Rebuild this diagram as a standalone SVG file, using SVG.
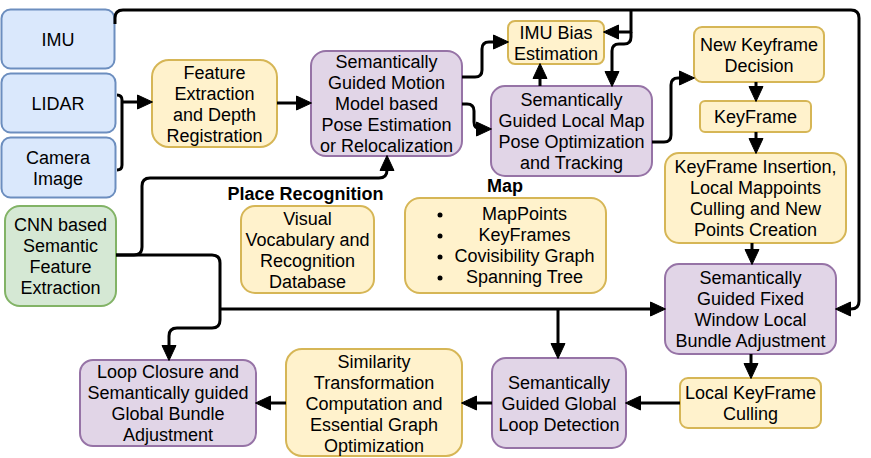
<svg xmlns="http://www.w3.org/2000/svg" width="871" height="458" viewBox="0 0 871 458">
<style>
text{font-family:"Liberation Sans",Arial,Helvetica,sans-serif;font-size:18px;fill:#000;text-anchor:middle}
.lbl{font-weight:bold}
.blue{fill:#dae8fc;stroke:#6c8ebf;stroke-width:2}
.yel{fill:#fff2cc;stroke:#d6b656;stroke-width:2}
.pur{fill:#e1d5e7;stroke:#9673a6;stroke-width:2}
.grn{fill:#d5e8d4;stroke:#82b366;stroke-width:2}
.c path{fill:none;stroke:#000;stroke-width:3;stroke-linejoin:round}
.c .a{marker-end:url(#ah)}
</style>
<defs>
<marker id="ah" markerUnits="userSpaceOnUse" markerWidth="17" markerHeight="17" refX="11" refY="7.5" orient="auto" viewBox="0 0 17 15">
<path d="M0.5,0.5 L15.5,7.5 L0.5,14.5 Z" fill="#000" stroke="#000" stroke-width="1"/>
</marker>
</defs>
<rect width="871" height="458" fill="#fff"/>

<g id="imu"><rect class="blue" x="1.5" y="9.5" width="113" height="59" rx="9"/><text x="58" y="45.5">IMU</text></g>
<g id="lidar"><rect class="blue" x="1.5" y="73.5" width="114" height="59" rx="9"/><text x="58" y="109.5">LIDAR</text></g>
<g id="camera"><rect class="blue" x="1.5" y="137.5" width="114" height="60" rx="9"/><text x="58" y="163.5">Camera<tspan x="58" dy="21">Image</tspan></text></g>
<g id="feature"><rect class="yel" x="152" y="60" width="125" height="87" rx="17"/><text x="214.5" y="78.5">Feature<tspan x="214.5" dy="21">Extraction</tspan><tspan x="214.5" dy="21">and Depth</tspan><tspan x="214.5" dy="21">Registration</tspan></text></g>
<g id="cnn"><rect class="grn" x="5" y="206" width="111" height="100" rx="15"/><text x="60.5" y="230.5">CNN based<tspan x="60.5" dy="21">Semantic</tspan><tspan x="60.5" dy="21">Feature</tspan><tspan x="60.5" dy="21">Extraction</tspan></text></g>
<g id="motion"><rect class="pur" x="311" y="51" width="151" height="105" rx="15"/><text x="386.5" y="68">Semantically<tspan x="386.5" dy="21">Guided Motion</tspan><tspan x="386.5" dy="21">Model based</tspan><tspan x="386.5" dy="21">Pose Estimation</tspan><tspan x="386.5" dy="21">or Relocalization</tspan></text></g>
<g id="imubias"><rect class="yel" x="508" y="21" width="96" height="43" rx="7"/><text x="556" y="38.5">IMU Bias<tspan x="556" dy="21">Estimation</tspan></text></g>
<g id="localmap"><rect class="pur" x="491" y="86" width="161" height="90" rx="14"/><text x="571.5" y="106">Semantically<tspan x="571.5" dy="21">Guided Local Map</tspan><tspan x="571.5" dy="21">Pose Optimization</tspan><tspan x="571.5" dy="21">and Tracking</tspan></text></g>
<g id="nkd"><rect class="yel" x="694" y="27" width="130" height="55" rx="8"/><text x="759" y="50.5">New Keyframe<tspan x="759" dy="21">Decision</tspan></text></g>
<g id="keyframe"><rect class="yel" x="700" y="101" width="111" height="31" rx="5"/><text x="755.5" y="122.5">KeyFrame</text></g>
<g id="insertion"><rect class="yel" x="665" y="153" width="181" height="90" rx="14"/><text x="755.5" y="173">KeyFrame Insertion,<tspan x="755.5" dy="21">Local Mappoints</tspan><tspan x="755.5" dy="21">Culling and New</tspan><tspan x="755.5" dy="21">Points Creation</tspan></text></g>
<g id="fixedwindow"><rect class="pur" x="665" y="264" width="171" height="90" rx="14"/><text x="750.5" y="284">Semantically<tspan x="750.5" dy="21">Guided Fixed</tspan><tspan x="750.5" dy="21">Window Local</tspan><tspan x="750.5" dy="21">Bundle Adjustment</tspan></text></g>
<g id="lkculling"><rect class="yel" x="680" y="378" width="141" height="50" rx="8"/><text x="750.5" y="399">Local KeyFrame<tspan x="750.5" dy="21">Culling</tspan></text></g>
<g id="globalloop"><rect class="pur" x="492" y="358" width="134" height="90" rx="14"/><text x="559" y="388.5">Semantically<tspan x="559" dy="21">Guided Global</tspan><tspan x="559" dy="21">Loop Detection</tspan></text></g>
<g id="similarity"><rect class="yel" x="286" y="349" width="176" height="107" rx="16"/><text x="374" y="367.5">Similarity<tspan x="374" dy="21">Transformation</tspan><tspan x="374" dy="21">Computation and</tspan><tspan x="374" dy="21">Essential Graph</tspan><tspan x="374" dy="21">Optimization</tspan></text></g>
<g id="loopclosure"><rect class="pur" x="80" y="360" width="176" height="86" rx="13"/><text x="168" y="378">Loop Closure and<tspan x="168" dy="21">Semantically guided</tspan><tspan x="168" dy="21">Global Bundle</tspan><tspan x="168" dy="21">Adjustment</tspan></text></g>
<g id="placerec"><text class="lbl" x="305.5" y="200">Place Recognition</text><rect class="yel" x="241" y="206" width="133" height="87" rx="14"/><text x="307.5" y="224.5">Visual<tspan x="307.5" dy="21">Vocabulary and</tspan><tspan x="307.5" dy="21">Recognition</tspan><tspan x="307.5" dy="21">Database</tspan></text></g>
<g id="map"><text class="lbl" x="505" y="192">Map</text><rect class="yel" x="405" y="198" width="201" height="95" rx="15"/>
<circle cx="440" cy="215" r="2.5"/><circle cx="440" cy="236" r="2.5"/><circle cx="440" cy="257" r="2.5"/><circle cx="440" cy="278" r="2.5"/>
<text x="524.5" y="219.5">MapPoints<tspan x="524.5" dy="21">KeyFrames</tspan><tspan x="524.5" dy="21">Covisibility Graph</tspan><tspan x="524.5" dy="21">Spanning Tree</tspan></text></g>

<g id="connectors" class="c">
<path class="a" d="M115,24 V18 Q115,10 123,10 H851 Q859,10 859,18 V301 Q859,309 851,309 H840"/>
<path class="a" d="M631,10 V32 H608"/>
<path class="a" d="M631,32 V37 Q631,44 624,44 H619 Q612,44 612,51 V82"/>
<path d="M117,95 Q122,95 122,100 V165 Q122,170 117,170"/>
<path class="a" d="M122,102 H148"/>
<path class="a" d="M277,103 H307"/>
<path class="a" d="M462,77 H475 Q482,77 482,70 V49 Q482,42 489,42 H504"/>
<path class="a" d="M462,104 H467 Q474,104 474,111 V122 Q474,129 481,129 H487"/>
<path class="a" d="M540,86 V68"/>
<path class="a" d="M652,142 H664 Q671,142 671,135 V85 Q671,78 678,78 H690"/>
<path class="a" d="M756,82 V97"/>
<path class="a" d="M756,132 V149"/>
<path class="a" d="M752,243 V260"/>
<path class="a" d="M751,354 V374"/>
<path class="a" d="M680,403 H630"/>
<path class="a" d="M492,403 H466"/>
<path class="a" d="M286,403 H260"/>
<path class="a" d="M116,255 H134 Q142,255 142,247 V186 Q142,178 150,178 H379 Q387,178 387,170 V160"/>
<path class="a" d="M116,255 H212 Q220,255 220,263 V320 Q220,328 212,328 H177 Q169,328 169,336 V356"/>
<path class="a" d="M220,309 H661"/>
<path class="a" d="M558,309 V354"/>
</g>
</svg>
